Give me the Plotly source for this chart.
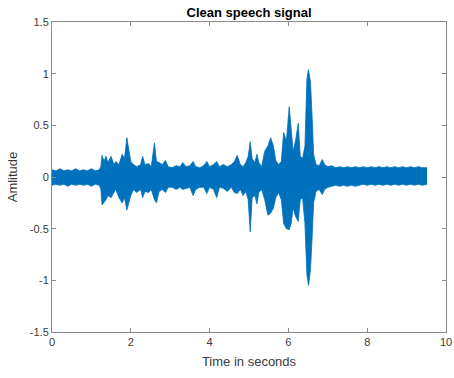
import plotly.graph_objects as go

# Envelope of the clean speech waveform (seconds, amplitude)
time_s = [0.00, 0.10, 0.20, 0.30, 0.40, 0.50, 0.60, 0.70, 0.80, 0.90, 1.00, 1.10, 1.20,
          1.24, 1.27, 1.32, 1.37, 1.42, 1.50, 1.57, 1.62, 1.70, 1.78, 1.84, 1.90, 1.95,
          2.00, 2.07, 2.15, 2.25, 2.30, 2.36, 2.45, 2.52, 2.60, 2.65, 2.72, 2.80, 2.88,
          2.95, 3.05, 3.15, 3.25, 3.32, 3.40, 3.50, 3.58, 3.65, 3.75, 3.85, 3.93, 4.00,
          4.10, 4.18, 4.25, 4.35, 4.45, 4.55, 4.63, 4.70, 4.78, 4.85, 4.92, 4.98, 5.03,
          5.08, 5.15, 5.20, 5.25, 5.32, 5.40, 5.48, 5.55, 5.62, 5.68, 5.75, 5.82, 5.88,
          5.95, 6.02, 6.07, 6.12, 6.18, 6.25, 6.30, 6.36, 6.42, 6.47, 6.51, 6.56, 6.60,
          6.64, 6.70, 6.78, 6.86, 6.92, 7.00, 7.10, 7.20, 7.30, 7.40, 7.50, 7.60, 7.70,
          7.80, 7.90, 8.00, 8.10, 8.20, 8.30, 8.40, 8.50, 8.60, 8.70, 8.80, 8.90, 9.00,
          9.10, 9.20, 9.30, 9.40, 9.52]
upper_env = [0.07, 0.06, 0.08, 0.06, 0.07, 0.06, 0.08, 0.06, 0.07, 0.06, 0.08, 0.06, 0.07,
             0.10, 0.21, 0.15, 0.20, 0.14, 0.20, 0.12, 0.15, 0.12, 0.22, 0.18, 0.38, 0.28,
             0.15, 0.12, 0.10, 0.12, 0.20, 0.12, 0.13, 0.10, 0.33, 0.15, 0.14, 0.12, 0.16,
             0.10, 0.09, 0.11, 0.10, 0.14, 0.10, 0.11, 0.15, 0.10, 0.09, 0.11, 0.15, 0.10,
             0.12, 0.15, 0.10, 0.12, 0.10, 0.12, 0.15, 0.21, 0.12, 0.10, 0.14, 0.20, 0.34,
             0.18, 0.14, 0.22, 0.14, 0.10, 0.25, 0.30, 0.38, 0.30, 0.16, 0.12, 0.15, 0.43,
             0.35, 0.68, 0.43, 0.25, 0.35, 0.52, 0.20, 0.18, 0.30, 0.95, 1.04, 0.92, 0.60,
             0.22, 0.12, 0.11, 0.17, 0.12, 0.10, 0.11, 0.09, 0.10, 0.09, 0.10, 0.09, 0.10,
             0.09, 0.10, 0.09, 0.10, 0.09, 0.10, 0.09, 0.10, 0.09, 0.10, 0.09, 0.10, 0.09,
             0.10, 0.09, 0.10, 0.09, 0.09]
lower_env = [-0.08, -0.07, -0.08, -0.07, -0.09, -0.07, -0.08, -0.07, -0.08, -0.07, -0.09, -0.07, -0.08,
             -0.12, -0.27, -0.25, -0.22, -0.18, -0.20, -0.15, -0.12, -0.20, -0.25, -0.20, -0.32, -0.25,
             -0.18, -0.12, -0.15, -0.12, -0.20, -0.14, -0.15, -0.12, -0.22, -0.25, -0.14, -0.12, -0.15,
             -0.10, -0.10, -0.12, -0.10, -0.12, -0.11, -0.10, -0.18, -0.12, -0.10, -0.10, -0.16, -0.10,
             -0.12, -0.20, -0.10, -0.11, -0.14, -0.10, -0.15, -0.16, -0.12, -0.18, -0.14, -0.22, -0.53,
             -0.20, -0.18, -0.26, -0.15, -0.12, -0.22, -0.37, -0.35, -0.30, -0.20, -0.15, -0.22, -0.45,
             -0.50, -0.51, -0.45, -0.30, -0.38, -0.43, -0.22, -0.20, -0.45, -0.95, -1.05, -0.90, -0.60,
             -0.25, -0.14, -0.12, -0.17, -0.12, -0.10, -0.09, -0.08, -0.09, -0.08, -0.09, -0.08, -0.09,
             -0.08, -0.07, -0.08, -0.07, -0.08, -0.07, -0.08, -0.07, -0.08, -0.07, -0.08, -0.07, -0.08,
             -0.07, -0.08, -0.07, -0.08, -0.07]

x_ticks = [0, 2, 4, 6, 8, 10]
x_tick_labels = ["0", "2", "4", "6", "8", "10"]
y_ticks = [-1.5, -1, -0.5, 0, 0.5, 1, 1.5]
y_tick_labels = ["-1.5", "-1", "-0.5", "0", "0.5", "1", "1.5"]

BLUE = "#0072BD"
AXIS = "#8a8a8a"
TXT = "#3a3a3a"
FONT = "Liberation Sans, Arial, sans-serif"

fig = go.Figure()
fig.add_trace(go.Scatter(x=time_s, y=upper_env, mode="lines",
                         line=dict(color=BLUE, width=0.8), showlegend=False, hoverinfo="skip"))
fig.add_trace(go.Scatter(x=time_s, y=lower_env, mode="lines", fill="tonexty",
                         fillcolor=BLUE, line=dict(color=BLUE, width=0.8),
                         showlegend=False, hoverinfo="skip"))

axis_common = dict(showgrid=False, zeroline=False, showline=True, linecolor=AXIS, linewidth=1,
                   mirror="ticks", ticks="inside", ticklen=4, tickcolor=AXIS, automargin=False,
                   tickfont=dict(family=FONT, size=11, color=TXT))

fig.update_layout(
    width=454, height=378,
    paper_bgcolor="white", plot_bgcolor="white",
    margin=dict(l=52, r=8, t=22, b=46, autoexpand=False),
    title=dict(text="<b>Clean speech signal</b>", x=0.5485, xanchor="center", y=0.966, yanchor="middle",
               font=dict(family=FONT, size=13, color="#000000")),
    xaxis=dict(range=[0, 10], tickvals=x_ticks, ticktext=x_tick_labels,
               title=dict(text="Time in seconds", standoff=9,
                          font=dict(family=FONT, size=13, color=TXT)),
               **axis_common),
    yaxis=dict(range=[-1.5, 1.5], tickvals=y_ticks, ticktext=y_tick_labels,
               title=dict(text="Amlitude", standoff=9,
                          font=dict(family=FONT, size=13, color=TXT)),
               **axis_common),
)

fig.write_html("out.html", config={"displayModeBar": False, "staticPlot": True},
               post_script="document.body.style.margin='0';document.body.style.overflow='hidden';")
